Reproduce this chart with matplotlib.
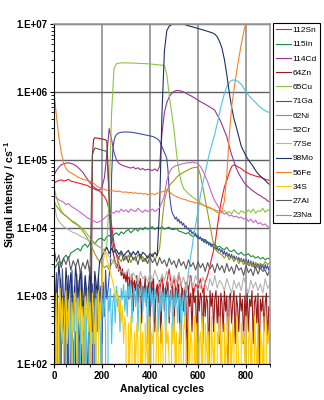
import numpy as np
import matplotlib
matplotlib.use("Agg")
import matplotlib.pyplot as plt
from matplotlib.ticker import FixedLocator, FuncFormatter, MultipleLocator, LogLocator

plt.rcParams['font.family'] = ['Liberation Sans', 'DejaVu Sans']
plt.rcParams['mathtext.fontset'] = 'custom'
plt.rcParams['mathtext.bf'] = 'Liberation Sans:bold'
plt.rcParams['mathtext.rm'] = 'Liberation Sans'

# analytical cycle of every stored reading (coarse for smooth traces, fine for noisy ones)
cycles = np.arange(0, 901, 10)
cycles_fine = np.arange(0, 901, 5)

# signal intensities in counts per second
sn112 = [46000, 48000, 50000, 51000, 49000, 50000, 52000, 49000, 48000, 47000,
         46000, 45000, 44000, 43000, 42000, 40000, 39000, 37000, 36000, 35000,
         32000, 29000, 25000, 18000, 11000, 6000, 4000, 3000, 2300, 2000,
         1700, 1900, 1400, 1600, 1200, 1500, 1300, 900, 1400, 1100,
         1300, 1700, 800, 1500, 1200, 1900, 1000, 1600, 2500, 1300,
         1800, 1100, 2200, 1400, 900, 1600, 1200, 2000, 1000, 1500,
         1300, 1800, 1100, 1600, 2000, 2800, 4000, 5500, 10000, 18000,
         28000, 40000, 50000, 65000, 80000, 85000, 82000, 78000, 75000, 70000,
         66000, 64000, 61000, 60000, 58000, 57000, 56000, 54000, 52000, 51000,
         50000]
in115 = [2500, 2800, 3200, 3000, 3600, 4000, 3500, 4300, 4500, 4800,
         5000, 4600, 5400, 5800, 5200, 6000, 6300, 5800, 6600, 7000,
         7000, 6500, 7500, 7800, 7200, 8000, 8500, 7800, 8800, 8200,
         9000, 9500, 8500, 9200, 9800, 9000, 10000, 9400, 10200, 9600,
         10000, 10500, 9500, 10200, 9800, 10500, 9600, 10000, 10300, 9500,
         9500, 9800, 9000, 8800, 8500, 8200, 8600, 7800, 7500, 7800,
         7000, 7200, 6600, 6800, 6200, 6000, 5600, 5800, 5200, 5400,
         5000, 4800, 5200, 4600, 4500, 4800, 4300, 4100, 4400, 4000,
         4000, 4200, 3800, 3900, 3600, 3800, 3500, 3700, 3400, 3600,
         3500]
cd114 = [60000, 70000, 78000, 85000, 88000, 90000, 91000, 89000, 87000, 83000,
         78000, 72000, 66000, 58000, 52000, 46000, 42000, 39000, 37000, 36000,
         40000, 55000, 120000, 290000, 200000, 130000, 100000, 90000, 85000, 82000,
         80000, 78000, 76000, 79000, 74000, 77000, 72000, 75000, 71000, 73000,
         72000, 70000, 74000, 69000, 80000, 250000, 500000, 700000, 850000, 950000,
         1020000, 1050000, 1050000, 1030000, 1000000, 960000, 920000, 880000, 840000, 800000,
         760000, 720000, 690000, 660000, 630000, 600000, 570000, 540000, 460000, 400000,
         330000, 270000, 220000, 160000, 120000, 95000, 75000, 63000, 55000, 48000,
         43000, 40000, 37000, 35000, 33000, 31000, 30000, 28000, 27000, 25000,
         24000]
# fine grid
zn64 = [200, 0, 300, 100, 0, 400, 200, 0, 100, 300, 0, 200, 400, 0, 100, 300,
        200, 0, 300, 100, 0, 200, 400, 100, 0, 300, 200, 0, 100, 400, 0, 300,
        120000, 200000, 212000, 211000, 210000, 208000, 207000, 205000, 204000, 202000,
        200000, 198000, 190000, 80000,
        20000, 9000, 6000, 4500, 3800, 3200, 2600, 2900, 2300, 2700, 2000, 2500, 1800, 2200,
        1600, 2300, 900, 1900, 1300, 2100, 600, 1700, 1200, 2000, 800, 1500, 1800, 400, 1400, 1100, 1900, 700, 1300, 1600,
        500, 1500, 1000, 1800, 300, 1200, 1400, 800, 1700, 200, 1100, 1500, 600, 1300, 1000, 1600, 400, 1200, 900, 1400,
        300, 1300, 800, 1100, 1500, 200, 1000, 1300, 600, 1200, 900, 100, 1400, 700, 1100, 300, 1300, 800, 1000, 200,
        1200, 600, 1100, 900, 200, 1300, 500, 1000, 800, 100, 1200, 700, 1100, 300, 900, 1200, 400, 1000, 200, 1100,
        800, 300, 1200, 600, 1000, 100, 900, 1100, 400, 800, 1200, 200, 1000, 700, 300, 1100, 600, 900, 200, 1000,
        500, 1100, 300, 900, 700, 1200, 200, 800, 1000, 400, 1100, 100, 900, 600, 1000, 300, 800, 1100, 200, 700,
        600]
cu65 = [40000, 28000, 22000, 18000, 16000, 15000, 14000, 13000, 12500, 12000,
        11000, 10500, 9500, 9000, 8000, 7200, 6500, 6000, 5500, 5200,
        5000, 4800, 5500, 30000, 500000, 2200000, 2600000, 2650000, 2680000, 2680000,
        2680000, 2670000, 2670000, 2660000, 2650000, 2640000, 2630000, 2620000, 2610000, 2600000,
        2580000, 2560000, 2540000, 2520000, 2500000, 2480000, 2450000, 1800000, 900000, 500000,
        280000, 130000, 70000, 48000, 38000, 35000, 32000, 30000, 28000, 26500,
        25000, 23500, 22000, 21000, 20000, 19500, 19000, 18500, 18000, 17500,
        17000, 18000, 16500, 17500, 16000, 18500, 17000, 16000, 18000, 17000,
        16500, 18500, 17000, 19000, 16500, 18000, 17500, 19500, 17000, 18500,
        18000]
# fine grid
ga71 = [1500, 200, 2200, 700, 0, 1800, 400, 2500, 900, 100, 1600, 600, 2000, 0, 1200, 2400, 300, 1400, 800, 2100,
        100, 1700, 500, 2300, 1000, 0, 1900, 700, 1300, 200, 2200, 600, 1500, 0, 1800, 1100, 300, 2000, 800, 1400,
        200, 1600, 500, 2400, 900, 1200, 2000, 3000,
        60000, 140000, 190000, 220000, 235000, 245000, 250000, 253000, 255000, 257000,
        258000, 258000, 258000, 258000, 257000, 257000, 256000, 255000, 254000, 252000,
        250000, 248000, 246000, 244000, 242000, 240000, 238000, 236000, 234000, 232000,
        230000, 228000, 226000, 224000, 222000, 219000, 215000, 210000, 205000, 198000,
        190000, 172000, 155000, 142000, 130000, 118000, 105000, 70000, 35000, 24000,
        18000, 16000,
        15000, 13500, 14500, 12500, 13500, 11800, 12500, 11000, 11800, 10200, 10800, 9600, 10000, 8800, 9400, 8200, 8800, 7800, 8400, 7400,
        7800, 6900, 7400, 6500, 7000, 6100, 6700, 5900, 6300, 5600, 6000, 5300, 5800, 5000, 5500, 4800, 5200, 4600, 5000, 4400,
        4800, 4100, 4600, 3900, 4400, 3800, 4200, 3600, 4100, 3500, 3900, 3400, 3800, 3300, 3700, 3200, 3600, 3100, 3500, 3000,
        3500, 2900, 3400, 2800, 3300, 2700, 3200, 2600, 3100, 2700, 3000, 2500, 3000, 2600, 2900, 2400, 2900, 2500, 2800, 2400,
        2700]
ni62 = [25000, 21000, 19000, 17000, 16000, 15000, 14000, 13000, 12000, 11500,
        11000, 10000, 9000, 8000, 7000, 6000, 5000, 4200, 3600, 3200,
        3000, 2600, 2800, 2400, 3000, 3500, 2800, 3600, 3200, 3900,
        3400, 4000, 3100, 3700, 3300, 4100, 3500, 3800, 3200, 3900,
        3600, 4200, 3400, 4000, 5000, 12000, 25000, 35000, 42000, 46000,
        50000, 55000, 60000, 63000, 66000, 69000, 72000, 75000, 77000, 78000,
        78000, 60000, 40000, 26000, 17000, 11000, 7000, 5000, 4500, 4200,
        4000, 3600, 4100, 3400, 3800, 3200, 3700, 3000, 3500, 2900,
        3300, 2800, 3200, 2700, 3100, 2600, 3000, 2800, 3200, 2900,
        3100]
# fine grid
cr52 = [500, 100, 900, 300, 0, 700, 1100, 200, 600, 0, 800, 300, 1000, 100, 500, 900, 0, 400, 1200, 200,
        700, 0, 600, 1000, 300, 100, 800, 500, 0, 1100, 400, 700, 200, 900, 0, 600, 1000, 300, 800, 100,
        900, 500, 1200, 300, 0, 1000, 600, 1300, 200, 800, 1100, 400, 1400, 700, 1000, 300, 1300, 900, 1500, 600,
        1200, 500, 1400, 900, 1600, 400, 1100, 1300, 700, 1500, 300, 1200, 1000, 1600, 600, 1300, 800, 1400, 200, 1100,
        1500, 700, 1200, 400, 1300, 900, 1000, 300, 1400, 600, 1100, 800, 1300, 200, 1000, 1200, 500, 900, 1300, 300,
        1000, 700, 1200, 400, 900, 1100, 200, 800, 1200, 500, 1000, 1400, 2200, 3000, 4000, 5000,
        7000, 9000, 11000, 14000, 18000, 23000, 30000, 37000, 45000, 54000,
        65000, 80000, 95000, 115000, 135000, 155000, 180000, 210000, 240000, 290000,
        340000, 410000, 500000, 600000, 700000, 820000, 950000, 1080000, 1200000, 1300000,
        1380000, 1440000, 1480000, 1500000, 1500000, 1490000, 1470000, 1440000, 1400000, 1350000,
        1300000, 1230000, 1150000, 1070000, 1000000, 950000, 900000, 860000, 830000, 790000,
        760000, 730000, 700000, 670000, 640000, 620000, 600000, 580000, 560000, 545000,
        530000, 520000, 510000, 505000, 500000]
se77 = [25000, 15000, 12500, 11500, 10500, 10000, 9500, 9000, 8500, 8400,
        8000, 7600, 7300, 7000, 6700, 6400, 6100, 5800, 5500, 5300,
        5000, 4600, 4200, 3800, 3400, 3000, 2800, 2500, 2300, 2200,
        2100, 2500, 1700, 2200, 1900, 1500, 2300, 1800, 2000, 1600,
        2200, 1700, 2400, 1900, 1500, 2100, 1700, 2300, 1800, 1400,
        2000, 1600, 2200, 1500, 1900, 1300, 2100, 1700, 1400, 2000,
        1600, 1300, 1900, 1500, 1200, 1800, 1400, 2000, 1300, 1700,
        1500, 1200, 1800, 1400, 1100, 1700, 1300, 1600, 1200, 1900,
        1400, 1100, 1700, 1300, 1600, 1200, 1500, 1100, 1800, 1300,
        1500]
mo98 = [2500, 600, 3000, 1200, 300, 2600, 900, 2200, 400, 2800,
        1000, 2400, 500, 2000, 800, 2700, 300, 2300, 1100, 3200,
        3800, 4500, 5200, 4200, 5000, 4400, 4800, 4100, 4600, 3900,
        4300, 4700, 3800, 4500, 4000, 4600, 3700, 4400, 4100, 3600,
        4200, 3800, 4400, 3900, 20000, 500000, 4000000, 8000000, 9300000, 9800000,
        10000000, 10100000, 10100000, 10000000, 10000000, 9700000, 9400000, 9200000, 9000000, 8800000,
        8600000, 8400000, 8200000, 8000000, 7800000, 7600000, 7400000, 7100000, 6500000, 5500000,
        4400000, 3000000, 1800000, 1000000, 600000, 400000, 300000, 220000, 160000, 135000,
        115000, 100000, 90000, 80000, 70000, 63000, 58000, 54000, 50000, 46000,
        43000]
fe56 = [1000000, 450000, 220000, 130000, 90000, 75000, 68000, 65000, 62000, 59000,
        56000, 54000, 52000, 51000, 50000, 49000, 46000, 44000, 41000, 39000,
        38000, 37000, 36000, 36000, 35500, 35000, 34500, 35000, 34000, 33500,
        34000, 33000, 33500, 32500, 33000, 32000, 32500, 31500, 32000, 31000,
        31500, 32000, 31000, 32500, 33000, 34000, 35000, 36000, 34000, 32000,
        30000, 29000, 28000, 27000, 26500, 26000, 25000, 24500, 24000, 23500,
        23000, 22500, 22000, 21000, 20500, 20000, 19000, 18000, 17000, 16500,
        18000, 25000, 60000, 220000, 600000, 1100000, 1900000, 3100000, 5000000, 7500000,
        10500000, 13000000, 15000000, 17000000, 18000000, 19000000, 20000000, 20000000, 20000000, 20000000,
        20000000]
# fine grid
s34 = [800, 200, 1100, 0, 600, 1300, 300, 900, 100, 700, 1200, 200, 500, 1000, 0, 800, 300, 1100, 600, 100,
       900, 400, 1200, 200, 700, 0, 1000, 500, 1300, 300, 800, 100, 1100, 600, 200, 900, 0, 1200, 400, 700,
       1500, 3000, 4500, 4200, 3600, 3000, 2600, 2200, 1900, 1600, 1300, 1100, 900, 1200, 600, 900, 400, 700, 200, 500,
       300, 0, 400, 100, 500, 200, 0, 300, 100, 400, 200, 0, 500, 100, 300, 0, 400, 200, 100, 500,
       0, 300, 200, 400, 0, 100, 500, 200, 0, 300, 400, 100, 0, 500, 200, 300, 100, 0, 400, 200,
       500, 100, 300, 0, 200, 400, 100, 0, 300, 500, 200, 0, 400, 100, 300, 200, 0, 500, 100, 400,
       0, 200, 300, 100, 500, 0, 400, 200, 100, 300, 0, 500, 200, 100, 400, 0, 300, 200, 500, 100,
       300, 0, 400, 100, 200, 500, 0, 300, 100, 400, 200, 0, 500, 300, 100, 0, 400, 200, 300, 100,
       500, 0, 200, 400, 100, 300, 0, 500, 200, 100, 400, 0, 300, 200, 100, 500, 0, 400, 200, 300,
       200]
al27 = [5000, 3200, 4000, 2600, 3600, 2900, 3800, 2400, 3300, 2700,
        3500, 2200, 3100, 2500, 3400, 2000, 120000, 150000, 147000, 143000,
        140000, 137000, 133000, 30000, 8000, 5000, 4200, 3600, 4400, 3300,
        3900, 3100, 4300, 3400, 3800, 2900, 4100, 3200, 3600, 3000,
        3800, 3100, 3500, 2800, 3700, 3000, 3400, 2700, 3600, 2900,
        3300, 2600, 3500, 2800, 3200, 2500, 3400, 2700, 3100, 2400,
        3200, 2600, 3000, 2300, 3100, 2500, 2900, 2200, 3000, 2400,
        2800, 2200, 3000, 2300, 2700, 2100, 2900, 2400, 2600, 2000,
        2800, 2200, 2500, 2000, 2700, 2100, 2600, 2300, 2400, 2000,
        2500]
na23 = [30000, 28000, 26000, 25000, 24000, 22000, 23000, 21000, 20000, 19000,
        18000, 17000, 16000, 15000, 14000, 13500, 13000, 12500, 12000, 12500,
        13000, 14000, 15000, 16000, 17000, 16500, 18000, 17000, 19000, 17500,
        18500, 17000, 19000, 18000, 17500, 19500, 18000, 17000, 18500, 17500,
        18000, 19000, 17500, 18500, 20000, 24000, 30000, 50000, 65000, 75000,
        80000, 83000, 85000, 87000, 89000, 90000, 91000, 92000, 93000, 91000,
        88000, 80000, 70000, 58000, 48000, 38000, 30000, 25000, 22000, 19000,
        17000, 16000, 16500, 15000, 15500, 14500, 15000, 14000, 14500, 13500,
        14000, 12500, 13500, 12000, 13000, 11500, 12000, 11000, 11500, 10500,
        10000]

labels = ['112Sn', '115In', '114Cd', '64Zn', '65Cu', '71Ga', '62Ni',
          '52Cr', '77Se', '98Mo', '56Fe', '34S', '27Al', '23Na']
series = [sn112, in115, cd114, zn64, cu65, ga71, ni62,
          cr52, se77, mo98, fe56, s34, al27, na23]
colors = ['#ee1c25', '#1a8f3c', '#993399', '#991a1a', '#8cc63f', '#3f4fa0', '#999922',
          '#4cc4e8', '#b3b3b3', '#1f3060', '#f7812b', '#ffcc00', '#5a5a5a', '#cc66cc']

fig = plt.figure(figsize=(3.24, 4.0), dpi=100)
ax = fig.add_axes([54 / 324, 36 / 400, 216 / 324, 340 / 400])

handles = []
for lab, vals, col in zip(labels, series, colors):
    x = cycles_fine if len(vals) == len(cycles_fine) else cycles
    h, = ax.plot(x, vals, color=col, lw=0.8, label=lab)
    handles.append(h)

ax.set_yscale('log', nonpositive='clip')
ax.set_ylim(1e2, 1e7)
ax.set_xlim(0, 900)

ax.xaxis.set_major_locator(FixedLocator([0, 200, 400, 600, 800]))
ax.xaxis.set_minor_locator(MultipleLocator(50))
ax.yaxis.set_major_locator(LogLocator(base=10, numticks=10))
ax.yaxis.set_minor_locator(LogLocator(base=10, subs=np.arange(2, 10), numticks=10))
ax.yaxis.set_major_formatter(FuncFormatter(lambda v, _: '1.E+%02d' % int(round(np.log10(v)))))

for lab in ax.get_xticklabels() + ax.get_yticklabels():
    lab.set_fontweight('bold')
ax.tick_params(axis='both', which='major', labelsize=7, length=3, width=0.8, pad=2)
ax.tick_params(axis='both', which='minor', length=2, width=0.6)

# decade lines darker than the cycle lines
ax.grid(True, axis='y', which='major', color='#606060', lw=1.0)
ax.grid(True, axis='x', which='major', color='#999999', lw=1.3)
ax.set_axisbelow(True)

for s in ['top', 'right']:
    ax.spines[s].set_color('#999999')
    ax.spines[s].set_linewidth(1.2)
for s in ['left', 'bottom']:
    ax.spines[s].set_color('black')
    ax.spines[s].set_linewidth(0.8)

ax.set_xlabel('Analytical cycles', fontsize=7.5, fontweight='bold')
ax.set_ylabel(r'Signal intensity / cs$^{\mathbf{-1}}$', fontsize=7.5, fontweight='bold')
ax.xaxis.set_label_coords(0.5, -0.058)
ax.yaxis.set_label_coords(-0.165, 0.5)

leg = fig.legend(handles=handles, loc='upper left', bbox_to_anchor=(273 / 324, 1 - 23 / 400),
                 fontsize=6, frameon=True, fancybox=False, framealpha=1,
                 edgecolor='black', handlelength=1.7, handletextpad=0.25,
                 labelspacing=0.77, borderpad=0.4, borderaxespad=0)
leg.get_frame().set_linewidth(0.8)

fig.savefig('out.png', dpi=100)
